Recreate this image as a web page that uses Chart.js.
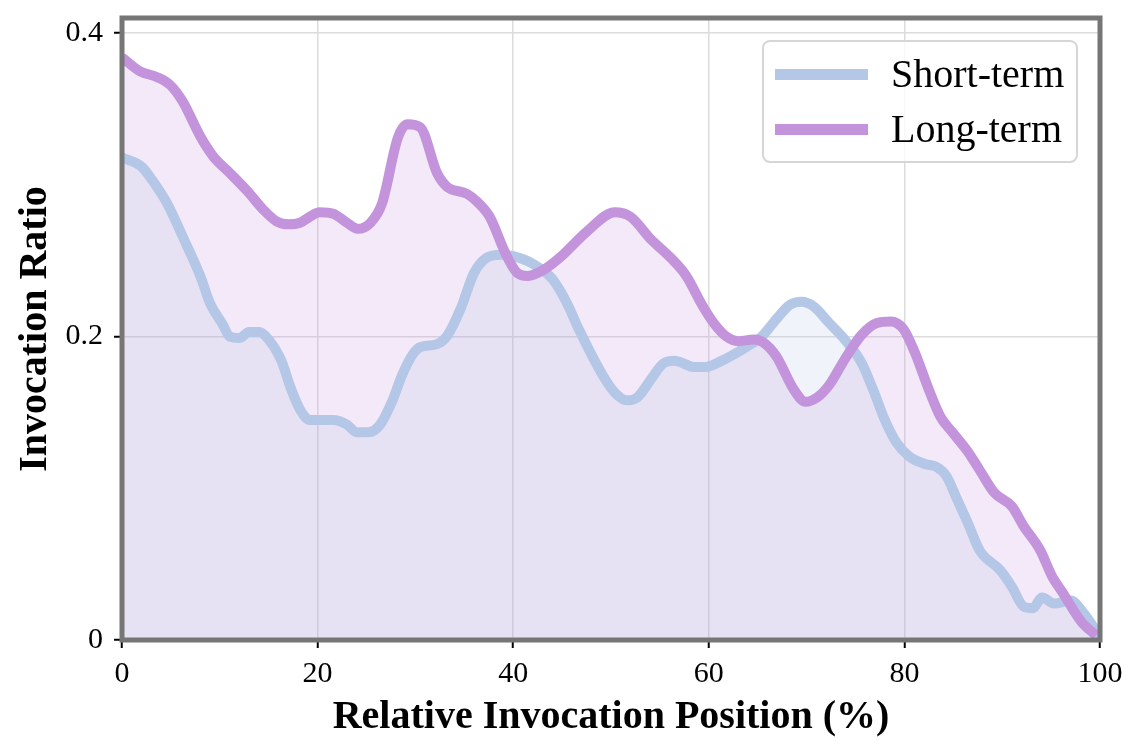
<!DOCTYPE html>
<html>
<head>
<meta charset="utf-8">
<script src="https://cdn.jsdelivr.net/npm/chart.js@4.4.1/dist/chart.umd.min.js"></script>
<style>
  body { margin: 0; background: #fff; }
  #wrap { position: relative; width: 1143px; height: 754px; }
  #leyenda {
    position: absolute; left: 762px; top: 40px; width: 312px; height: 119px;
    border: 2px solid #d6d6d6; border-radius: 8px; background: rgba(255,255,255,0.8);
    font-family: 'Liberation Serif', 'Times New Roman', serif; font-size: 40px; color: #000;
  }
  .fila { position: absolute; left: 0; height: 50px; width: 100%; }
  .muestra { position: absolute; left: 11px; width: 93px; height: 11px; top: 20px; }
  .texto { position: absolute; left: 127px; top: 0; line-height: 50px; white-space: nowrap; }
</style>
</head>
<body>
<div id="wrap">
  <canvas id="grafica"></canvas>
  <div id="leyenda"></div>
</div>
<script>
// posiciones (%) y valores
const cortoX = [0, 2, 3, 4.6, 6.2, 8, 9, 10.3, 11, 12, 13, 14, 15, 16.3, 17.2, 18.2, 19.2, 21.6, 23, 24, 25.2, 26.4, 27.6, 28.6, 29.7, 30.5, 32.2, 33.3, 34.6, 36, 37.3, 38.7, 40, 42, 44, 45.5, 46.7, 49.2, 50.4, 51.6, 52.7, 54.1, 55.3, 56.5, 58.5, 59.7, 61.3, 63.8, 65.4, 67.1, 68.3, 69.5, 70.7, 72.3, 73.9, 75.6, 76.8, 78, 79.2, 80.5, 82.1, 83.3, 84.3, 85.3, 86.5, 87.7, 89.8, 91, 92.2, 93.1, 94.1, 95.3, 97, 98.3, 100];
const cortoY = [0.318, 0.312, 0.304, 0.288, 0.266, 0.240, 0.222, 0.208, 0.200, 0.199, 0.203, 0.203, 0.198, 0.184, 0.167, 0.152, 0.145, 0.145, 0.142, 0.137, 0.137, 0.142, 0.157, 0.174, 0.188, 0.193, 0.195, 0.201, 0.218, 0.242, 0.252, 0.254, 0.253, 0.248, 0.238, 0.222, 0.205, 0.174, 0.163, 0.158, 0.160, 0.172, 0.182, 0.184, 0.180, 0.180, 0.184, 0.193, 0.200, 0.213, 0.221, 0.223, 0.220, 0.209, 0.198, 0.183, 0.165, 0.145, 0.130, 0.121, 0.116, 0.114, 0.108, 0.094, 0.077, 0.059, 0.046, 0.035, 0.022, 0.021, 0.028, 0.024, 0.026, 0.018, 0.002];

const largoX = [0, 1.8, 3.6, 4.9, 6.2, 8, 9.3, 11, 12.8, 14.4, 15.8, 17, 18.2, 19.2, 20.2, 21.6, 23, 24.1, 25.4, 26.6, 28.2, 29.2, 30.5, 32.2, 33.2, 35.3, 36.3, 37.6, 39.2, 40.4, 41.5, 43.1, 45.1, 47.5, 50.4, 52, 54.1, 56.1, 57.7, 59.3, 60.5, 61.8, 63, 64.6, 65.6, 66.9, 68.7, 69.9, 71.1, 72.3, 73.9, 75.6, 77.2, 78.6, 79.9, 81.1, 82.5, 83.7, 84.9, 86.5, 87.7, 89.2, 91, 92.2, 93.9, 95.1, 96.2, 98.1, 99.6];
const largoY = [0.384, 0.375, 0.371, 0.366, 0.355, 0.332, 0.319, 0.308, 0.296, 0.284, 0.276, 0.274, 0.275, 0.279, 0.282, 0.281, 0.275, 0.271, 0.275, 0.288, 0.331, 0.340, 0.338, 0.308, 0.299, 0.294, 0.289, 0.279, 0.255, 0.242, 0.240, 0.244, 0.254, 0.269, 0.282, 0.279, 0.264, 0.252, 0.240, 0.221, 0.209, 0.200, 0.197, 0.198, 0.196, 0.187, 0.165, 0.157, 0.160, 0.168, 0.185, 0.201, 0.209, 0.210, 0.205, 0.189, 0.165, 0.147, 0.137, 0.124, 0.112, 0.097, 0.088, 0.075, 0.059, 0.042, 0.031, 0.012, 0.003];

const etiquetas = ['Short-term', 'Long-term'];
const colores = ['#b4c7e7', '#c393db'];
const rellenos = ['rgba(180,199,231,0.2)', 'rgba(195,147,219,0.2)'];

const xTicks = [0, 20, 40, 60, 80, 100];
const yTicks = [0, 0.2, 0.4];
const yTickLabels = ['0', '0.2', '0.4'];

Chart.defaults.font.family = "'Liberation Serif', 'Times New Roman', serif";
Chart.defaults.color = '#000';

// junta x e y en puntos
function puntos(xs, ys) {
    return xs.map((x, i) => ({ x: x, y: ys[i] }));
}

// marco gris alrededor del area
const marco = {
    id: 'marco',
    afterDraw(chart) {
        const a = chart.chartArea;
        const c = chart.ctx;
        c.save();
        c.strokeStyle = '#767676';
        c.lineWidth = 5;
        c.strokeRect(a.left, a.top, a.right - a.left, a.bottom - a.top);
        c.restore();
    }
};

new Chart(document.getElementById('grafica'), {
    type: 'line',
    data: {
        datasets: [
            {
                label: etiquetas[0],
                data: puntos(cortoX, cortoY),
                borderColor: colores[0],
                backgroundColor: rellenos[0],
                fill: 'origin',
                order: 2
            },
            {
                label: etiquetas[1],
                data: puntos(largoX, largoY),
                borderColor: colores[1],
                backgroundColor: rellenos[1],
                fill: 'origin',
                order: 1
            }
        ]
    },
    options: {
        responsive: true,
        maintainAspectRatio: false,
        animation: false,
        layout: { padding: { top: 18, right: 43, left: 0, bottom: 0 } },
        elements: {
            line: { borderWidth: 10, cubicInterpolationMode: 'monotone', borderJoinStyle: 'round' },
            point: { radius: 0 }
        },
        plugins: {
            legend: { display: false },
            tooltip: { enabled: false },
            filler: { drawTime: 'beforeDatasetsDraw' }
        },
        scales: {
            x: {
                type: 'linear',
                min: 0,
                max: 100,
                afterBuildTicks: s => { s.ticks = xTicks.map(v => ({ value: v })); },
                afterFit: s => { s.height = 114; s.paddingLeft = 0; s.paddingRight = 0; },
                ticks: { font: { size: 30 }, padding: 8, maxRotation: 0 },
                grid: { color: '#dcdcdc', lineWidth: 1.5, tickColor: '#000', tickLength: 8, tickWidth: 2 },
                border: { display: false },
                title: {
                    display: true,
                    text: 'Relative Invocation Position (%)',
                    font: { size: 40, weight: 'bold' },
                    padding: { top: 0, bottom: 12 }
                }
            },
            y: {
                min: 0,
                max: 0.41,
                afterBuildTicks: s => { s.ticks = yTicks.map(v => ({ value: v })); },
                afterFit: s => { s.width = 122; s.paddingTop = 0; s.paddingBottom = 0; },
                ticks: {
                    font: { size: 30 },
                    padding: 11,
                    callback: (v) => yTickLabels[yTicks.indexOf(v)] ?? ''
                },
                grid: { color: '#dcdcdc', lineWidth: 1.5, tickColor: '#000', tickLength: 8, tickWidth: 2 },
                border: { display: false },
                title: {
                    display: true,
                    text: 'Invocation Ratio',
                    font: { size: 40, weight: 'bold' },
                    padding: { top: 12, bottom: 0 }
                }
            }
        }
    },
    plugins: [marco]
});

// leyenda dentro del area
const caja = document.getElementById('leyenda');
etiquetas.forEach((nombre, i) => {
    const fila = document.createElement('div');
    fila.className = 'fila';
    fila.style.top = (7 + i * 55) + 'px';
    fila.innerHTML = '<div class="muestra" style="background:' + colores[i] + '"></div><div class="texto">' + nombre + '</div>';
    caja.appendChild(fila);
});
</script>
</body>
</html>
